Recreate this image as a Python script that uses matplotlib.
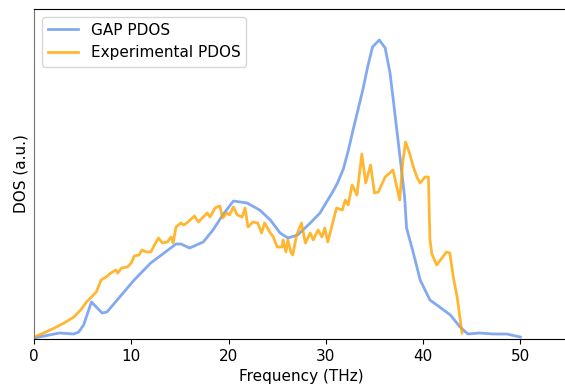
import matplotlib
matplotlib.use('Agg')
import matplotlib.pyplot as plt

plt.rcParams['font.size'] = 11

# GAP phonon DOS (frequency in THz, DOS in arbitrary units)
gap_freq = [0.0, 2.1, 2.6, 4.1, 4.6, 5.1, 5.9, 7.0, 7.5, 10.3, 12.0, 14.6, 15.1,
            16.0, 17.4, 18.4, 19.4, 20.5, 21.9, 23.2, 24.3, 25.3, 26.1, 27.1,
            28.4, 29.4, 30.2, 30.7, 31.2, 31.8, 32.3, 32.8, 33.3, 33.8, 34.3,
            34.8, 35.5, 36.1, 36.6, 36.9, 37.3, 37.7, 38.1, 38.3, 39.0, 39.7,
            40.7, 41.7, 42.8, 43.8, 44.6, 45.8, 47.2, 48.6, 50.0]
gap_dos = [1, 5, 6, 5, 7, 14, 37, 26, 27, 59, 76, 95, 95,
           91, 97, 109, 124, 138, 136, 129, 119, 106, 101, 104,
           116, 126, 139, 147, 156, 170, 188, 209, 229, 249, 272,
           292, 299, 291, 266, 242, 209, 176, 142, 111, 86, 59,
           39, 32, 24, 12, 5, 6, 5, 5, 2]

# experimental phonon DOS
exp_freq = [0.0, 1.0, 2.1, 3.1, 4.1, 4.8, 5.4, 6.4, 6.9, 7.4, 7.9, 8.4, 8.6,
            9.0, 9.6, 10.0, 10.3, 10.8, 11.1, 11.6, 12.0, 12.5, 12.8, 13.2,
            13.7, 14.1, 14.3, 14.6, 15.1, 15.4, 15.7, 16.5, 16.9, 17.4, 17.8,
            18.1, 18.6, 19.1, 19.4, 19.8, 20.1, 20.5, 20.9, 21.4, 21.7, 22.0,
            22.5, 23.0, 23.4, 23.7, 24.3, 24.6, 25.0, 25.5, 25.6, 25.9, 26.1,
            26.4, 26.6, 27.0, 27.5, 27.9, 28.4, 28.7, 29.2, 29.6, 29.9, 30.2,
            31.1, 31.7, 32.0, 32.3, 32.7, 33.2, 33.7, 34.1, 34.6, 35.0, 35.4,
            36.1, 36.9, 37.3, 37.6, 37.9, 38.2, 38.6, 39.0, 39.4, 39.7, 40.2,
            40.55, 40.7, 40.9, 41.4, 42.4, 42.75, 43.1, 43.5, 44.0]
exp_dos = [2, 6, 11, 16, 22, 29, 37, 47, 59, 62, 66, 69, 66,
           71, 72, 76, 83, 84, 89, 87, 87, 96, 101, 96,
           97, 102, 96, 112, 116, 114, 116, 123, 117, 122, 126,
           122, 131, 133, 121, 126, 124, 132, 124, 122, 131, 112,
           117, 116, 106, 116, 106, 102, 92, 92, 99, 87, 99,
           87, 84, 104, 116, 96, 106, 99, 109, 102, 111, 97,
           131, 129, 139, 134, 154, 144, 185, 156, 174, 146, 147,
           162, 169, 152, 139, 176, 197, 186, 172, 161, 156, 162,
           162, 100, 85, 74, 87, 86, 62, 42, 6]

fig = plt.figure(figsize=(5.65, 3.87), dpi=100)
ax = fig.add_axes([34 / 565, 48 / 387, 535 / 565, 330 / 387])

ax.plot(gap_freq, gap_dos, color='cornflowerblue', alpha=0.8, lw=2, label='GAP PDOS')
ax.plot(exp_freq, exp_dos, color='orange', alpha=0.8, lw=2, label='Experimental PDOS')

ax.set_xlim(0, 55)
ax.set_ylim(0, 330)
ax.set_yticks([])
ax.set_xlabel('Frequency (THz)')
ax.set_ylabel('DOS (a.u.)')
ax.spines['left'].set_color('0.45')
ax.legend(loc='upper left')

fig.savefig('out.png', dpi=100)
